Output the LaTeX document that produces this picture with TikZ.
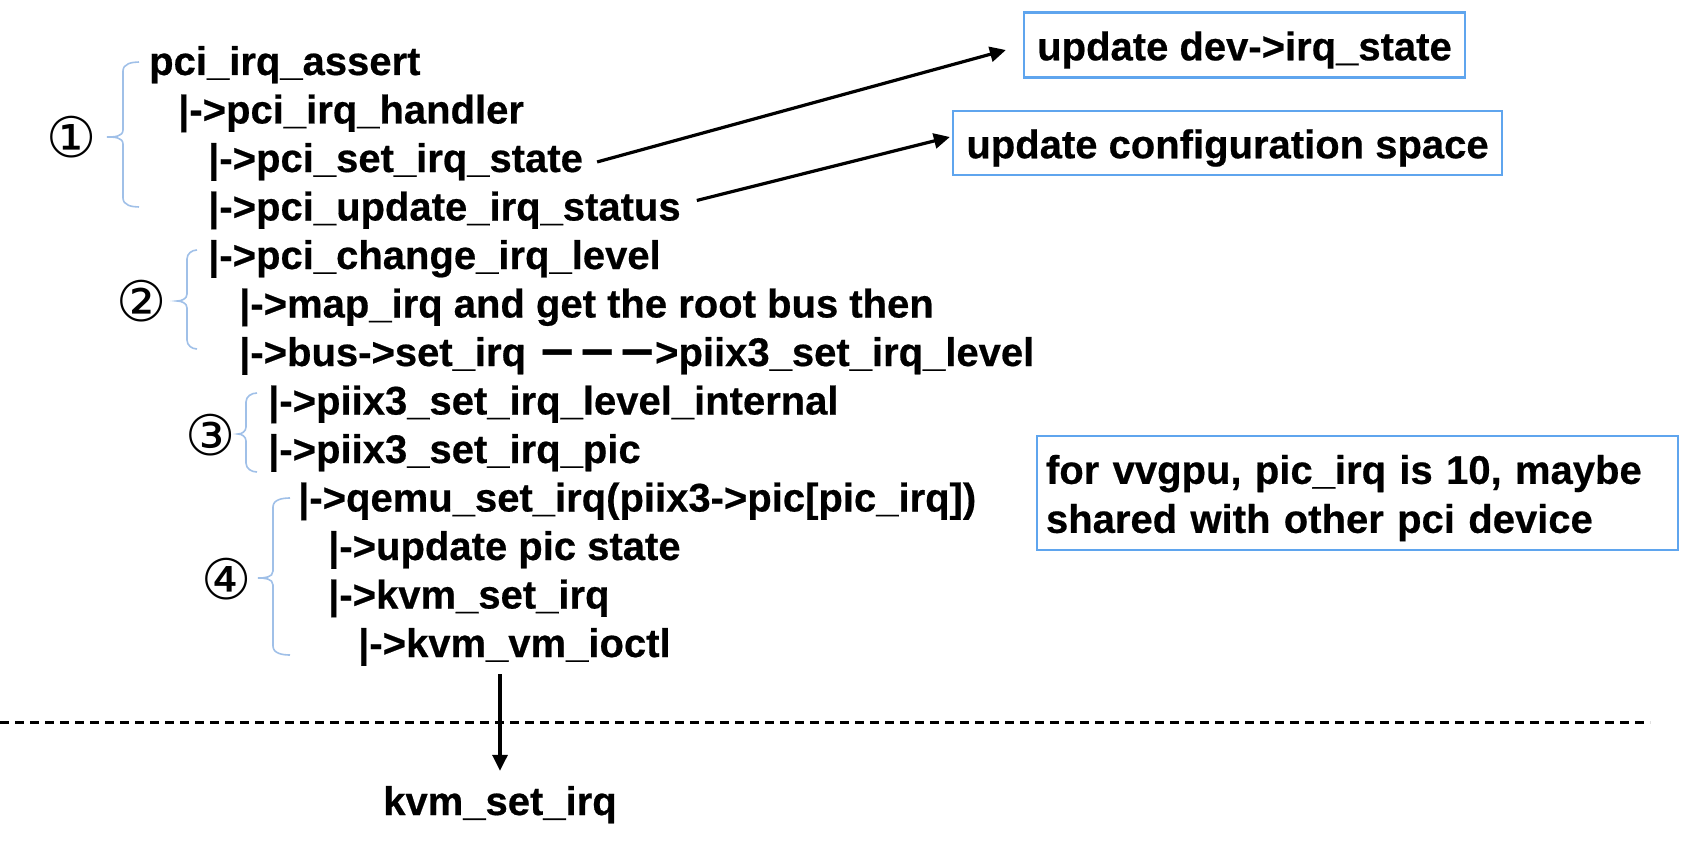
\documentclass[tikz,border=0pt]{standalone}
\usepackage{fontspec}
\setmainfont{Liberation Sans}[BoldFeatures={FakeBold=0.5}]
\newfontfamily\circfont{DejaVu Sans}
\usetikzlibrary{arrows.meta}
\definecolor{bracecol}{RGB}{160,192,232}
\definecolor{boxcol}{RGB}{95,165,238}
\newcommand\mybrace[6]{\draw[bracepath] (#1,#4) to[out=180,in=90] (#2,#4+9) -- (#2,#5-7) to[out=-90,in=0] (#3,#5) to[out=0,in=90] (#2,#5+7) -- (#2,#6-9) to[out=-90,in=180] (#1,#6);}
\newcommand\dsh{\makebox[40pt]{\scalebox{0.72}[1.3]{—}}}
\begin{document}
\begin{tikzpicture}[x=1pt,y=-1pt,
  every node/.style={inner sep=0pt},
  code/.style={anchor=base west, font=\fontsize{40}{49}\selectfont\bfseries},
  num/.style={font=\circfont\fontsize{56}{56}\selectfont},
  note/.style={draw=boxcol, line width=2.2pt, text height=39pt, font=\fontsize{40}{49}\selectfont\bfseries},
  arr/.style={line width=3.2pt, -{Triangle[length=16pt,width=15pt]}},
  bracepath/.style={draw=bracecol, line width=1.6pt}]
\useasboundingbox (0,0) rectangle (1688,848);

% call chain
\node[code] (l1) at (149,75) {pci\_irq\_assert};
\node[code] (l2) at (178,123.5) {|->pci\_irq\_handler};
\node[code] (l3) at (208,172) {|->pci\_set\_irq\_state};
\node[code] (l4) at (208,220.5) {|->pci\_update\_irq\_status};
\node[code] (l5) at (208,269) {|->pci\_change\_irq\_level};
\node[code] (l6) at (239,317.5) {|->map\_irq and get the root bus then};
\node[code] (l7) at (239,366) {|->bus->set\_irq \dsh\dsh\dsh\kern-2pt>piix3\_set\_irq\_level};
\node[code] (l8) at (268,414.5) {|->piix3\_set\_irq\_level\_internal};
\node[code] (l9) at (268,463) {|->piix3\_set\_irq\_pic};
\node[code] (l10) at (298,511.5) {|->qemu\_set\_irq(piix3->pic[pic\_irq])};
\node[code] (l11) at (328,560) {|->update pic state};
\node[code] (l12) at (328,608.5) {|->kvm\_set\_irq};
\node[code] (l13) at (358,657) {|->kvm\_vm\_ioctl};

% circled numbers
\node[num] (n1) at (72,137) {①};
\node[num] (n2) at (142,301) {②};
\node[num] (n3) at (211,435) {③};
\node[num] (n4) at (227,579) {④};

% braces
\mybrace{139}{123}{107}{62}{137}{207}
\mybrace{197}{187}{177}{250}{301}{349}
\mybrace{257}{246}{238}{393}{434}{472}
\mybrace{290}{273}{258}{498}{578}{655}

% notes
\node[note, minimum width=441pt, minimum height=65pt] (boxA) at (1244.5,45) {update dev->irq\_state};
\node[note, minimum width=549pt, minimum height=64pt] (boxB) at (1227.5,143) {update configuration space};
\node[note, minimum width=641pt, minimum height=114pt, text width=623pt, align=left, inner xsep=9pt] (boxC) at (1357.5,493) {for vvgpu, pic\_irq is 10, maybe\\shared with other pci device};

% bottom
\node[code, anchor=base] (kvm) at (500,815) {kvm\_set\_irq};
\draw[dash pattern=on 9pt off 6pt, line width=3pt] (0,722) -- (1650,722);

% connectors
\draw[arr] ([xshift=14pt]l3.east) -- ([shift={(-17pt,-5pt)}]boxA.west);
\draw[arr] ([shift={(16pt,10pt)}]l4.east) -- ([shift={(-2pt,6pt)}]boxB.west);
\coordinate (vstart) at ([yshift=-8pt]kvm.north |- l13.south);
\draw[arr] (vstart) -- ([yshift=15pt]kvm.north);
\end{tikzpicture}
\end{document}
